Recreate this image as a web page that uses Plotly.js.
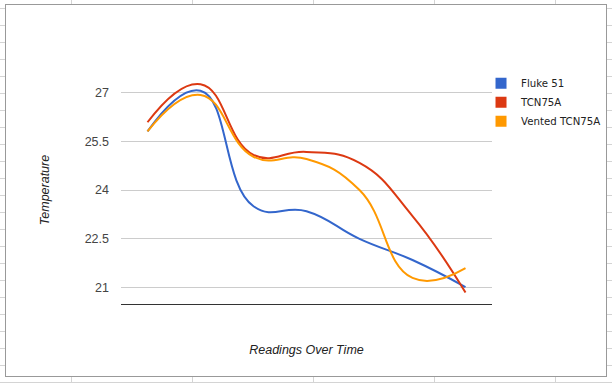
<!DOCTYPE html>
<html>
<head>
<meta charset="utf-8">
<script src="https://cdn.plot.ly/plotly-3.0.1.min.js"></script>
<style>
  html, body { margin: 0; padding: 0; background: #fff; }
  #sheet {
    position: absolute; left: 0; top: 0; width: 612px; height: 383px; overflow: hidden;
    background-color: #fff;
    background-image:
      linear-gradient(to bottom, #d4d4d4 0, #d4d4d4 1px, transparent 1px, transparent 17px),
      linear-gradient(to right, #d4d4d4 0, #d4d4d4 1px, transparent 1px, transparent 121px);
    background-size: 100% 17px, 121px 100%;
    background-position: 0 8px, 71px 0;
  }
  #box {
    position: absolute; left: 5px; top: 4px; width: 602px; height: 373px;
    box-sizing: border-box; border: 1px solid #999; background: #fff;
  }
  #chart { position: absolute; left: 0; top: 0; width: 612px; height: 383px; }
</style>
</head>
<body>
<div id="sheet"></div>
<div id="box"></div>
<div id="chart"></div>
<script>
// Data
const readings = [1, 2, 3, 4, 5, 6, 7];
const fluke51 = [25.8, 27.05, 23.5, 23.35, 22.5, 21.85, 21.02];
const tcn75a = [26.08, 27.25, 25.08, 25.17, 24.83, 23.2, 20.85];
const ventedTcn75a = [25.8, 26.92, 25.02, 24.95, 24.0, 21.3, 21.6];
const yTicks = [21, 22.5, 24, 25.5, 27];
const yTickText = ['21', '22.5', '24', '25.5', '27'];

const seriesNames = ['Fluke 51', 'TCN75A', 'Vented TCN75A'];
const seriesValues = [fluke51, tcn75a, ventedTcn75a];
const colors = ['#3366cc', '#dc3912', '#ff9900'];

const traces = [];
seriesValues.forEach((vals, i) => {
  traces.push({
    type: 'scatter', mode: 'lines', x: readings, y: vals, name: seriesNames[i],
    line: { color: colors[i], width: 2, shape: 'spline', smoothing: 1.3 },
    showlegend: false, legendgroup: 'g' + i, hoverinfo: 'skip'
  });
});
seriesValues.forEach((vals, i) => {
  traces.push({
    type: 'scatter', mode: 'markers', x: [null], y: [null], name: seriesNames[i],
    marker: { color: colors[i], symbol: 'square', size: 11 },
    showlegend: true, legendgroup: 'g' + i
  });
});

const layout = {
  width: 612, height: 383,
  margin: { l: 121, r: 120, t: 76, b: 79, autoexpand: false },
  paper_bgcolor: 'rgba(0,0,0,0)', plot_bgcolor: 'rgba(0,0,0,0)',
  font: { family: 'Arial, "Liberation Sans", sans-serif', color: '#444' },
  showlegend: true,
  legend: {
    x: 0.9704, xanchor: 'left', y: 1.032, yanchor: 'top',
    font: { family: '"DejaVu Sans", Tahoma, sans-serif', size: 10.2, color: '#222' },
    bgcolor: 'rgba(0,0,0,0)', tracegroupgap: 0, itemwidth: 30
  },
  xaxis: {
    range: [0.5, 7.5], showgrid: false, zeroline: false, showticklabels: false,
    showline: true, linecolor: '#333', linewidth: 1, ticks: '', automargin: false,
    title: { text: 'Readings Over Time', standoff: 41,
      font: { family: 'Arial, "Liberation Sans", sans-serif', size: 12.5, color: '#222', style: 'italic' } }
  },
  yaxis: {
    range: [20.5, 27.5], tickvals: yTicks, ticktext: yTickText,
    showgrid: true, gridcolor: '#cccccc', gridwidth: 1, zeroline: false, showline: false,
    ticks: '', ticklabelstandoff: 11, automargin: false,
    tickfont: { family: 'Arial, "Liberation Sans", sans-serif', size: 12.5, color: '#444' },
    title: { text: 'Temperature', standoff: 32,
      font: { family: 'Arial, "Liberation Sans", sans-serif', size: 12.5, color: '#222', style: 'italic' } }
  }
};

Plotly.newPlot('chart', traces, layout, { staticPlot: true, displayModeBar: false });
</script>
</body>
</html>
